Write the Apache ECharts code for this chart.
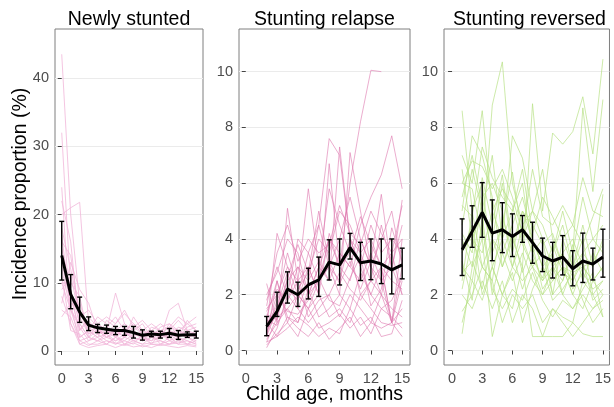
<!DOCTYPE html>
<html>
<head>
<meta charset="utf-8">
<script src="https://cdn.jsdelivr.net/npm/echarts@6/dist/echarts.min.js"></script>
<style>html,body{margin:0;padding:0;background:#fff}#c{width:614px;height:407px}</style>
</head>
<body>
<div id="c"></div>
<script>
// ---------- DATA ----------
const ages = [0,1,2,3,4,5,6,7,8,9,10,11,12,13,14,15];
const panelTitles = ['Newly stunted', 'Stunting relapse', 'Stunting reversed'];
const xTicks = [0,3,6,9,12,15];
const yTicksNewly = [0,10,20,30,40];
const yTicksOther = [0,2,4,6,8,10];

// mean and 95% CI per panel
const newlyMean = [14.0,8.3,5.7,3.8,3.4,3.2,3.0,3.0,2.7,2.3,2.5,2.4,2.6,2.3,2.4,2.4];
const newlyLo   = [10.4,6.2,4.2,3.0,2.7,2.6,2.4,2.3,1.9,1.6,2.1,1.9,2.0,1.7,2.0,1.9];
const newlyHi   = [19.0,11.2,7.9,5.0,3.9,3.8,3.6,3.6,3.6,3.1,2.9,2.9,3.3,3.0,2.8,2.9];

const relapseMean = [null,null,0.86,1.40,2.2,2.0,2.35,2.53,3.17,3.07,3.69,3.15,3.21,3.1,2.89,3.07];
const relapseLo   = [null,null,0.53,1.22,1.7,1.58,1.85,1.94,2.53,2.35,3.28,2.51,2.54,2.4,2.03,2.57];
const relapseHi   = [null,null,1.22,2.09,2.82,2.45,2.95,3.35,3.97,4.0,4.2,3.88,4.0,4.0,4.0,3.67];

const reversedMean = [null,3.61,4.27,4.95,4.21,4.33,4.09,4.33,3.87,3.39,3.21,3.35,2.93,3.21,3.1,3.35];
const reversedLo   = [null,2.69,3.7,4.06,3.22,3.51,3.37,3.88,3.13,2.83,2.6,2.71,2.32,2.44,2.53,2.63];
const reversedHi   = [null,4.72,5.19,6.02,5.4,5.3,4.9,4.84,4.6,4.03,3.88,4.12,3.58,4.21,3.67,4.35];

// cohort-level curves
const newlyCohorts = [
  [43.5,20,7,3,2,2.5,1.5,2,1.5,1,1.2,1.5,1,1.2,1.5,1],
  [32,9,4,2,3,2,1.5,2.5,2,1.5,2,1.8,2.5,1.5,2,1.5],
  [20,21,21.8,4,3,2.5,3,2,3.5,2.5,2,3,2.5,2,3,2.5],
  [18,12,6,3.5,2.5,3,8.5,4,3,2,3,2.5,3.5,3,2,3],
  [16,14,5,2.5,4,3,2.5,3,2,3,2.5,2,3,2.5,2,2.5],
  [14,8,3,5,3.5,2,3,4,2.5,2,3.5,3,2,3.5,3,2],
  [12,6,2,3,2,4.5,3.5,2.5,3,4,2,3.5,4,2,3.5,4],
  [10,10,8,2,4,3,2,1.5,2.5,2,1.5,2,6,7,3,null],
  [8,4,1,1.5,2,1,2,3,1.5,1,2,1.5,1,2,1.5,1],
  [6,5,1.5,0.8,1.5,2.5,1,1.5,1,2.5,1,1,2,1,1,2],
  [22,16,3,4.5,2.5,3.5,5,3,4,2.5,3,4,3,4.5,3,3.5],
  [13,7,1,0.5,0.8,1,0.5,1,0.6,0.8,0.5,1,0.7,0.5,0.8,0.6],
  [9,11,5,6,4,5,4,5.5,4,3,4,3,3.5,5,4,5],
  [17,6,4,2,1.5,2,2.5,1,2,1.5,2.5,1,1.5,1,2,1.2],
  [11,3,2.5,1,1,1.5,1.2,0.8,1.2,0.6,1,0.8,1,1.5,1,0.8],
  [7,13,9,7,3,2,3,2,5,3,2,2.5,2,3,4,3],
  [15,9,2,3,5,4,2,3.5,2,1.5,3,2,4,3,2.5,2],
  [24,4,1.5,2,1.5,1,2,1,1.5,2,1,2.5,1.5,2,1,1.5],
  [5,7,6,2.5,3,2.5,4,6,3.5,4.5,3,2,3,2,4.5,3],
  [10,6,3.5,1.5,2.5,1.5,1,2,3,2,1.5,3,1.5,2.5,2,2.5]
];
const relapseCohorts = [
  [null,null,0.5,1.5,2.5,3,2,2.5,4,3,6,8.2,10.05,10.0,null,null],
  [null,null,1.5,2,3,2.5,5.8,3,4,3.5,3,4.5,5.5,6.3,7.7,5.8],
  [null,null,0.8,4.2,3,2,3.5,4.5,7.6,7.0,4,3.5,2.5,3,1,2.5],
  [null,null,2.4,1,5.1,2.5,3,2,6.7,3,2.5,4,3,2,3.5,2],
  [null,null,0.3,1.2,1.5,1,2,3,2.5,7.3,4,3,2,3,1,4],
  [null,null,1.2,2.5,1,2,1.5,2.5,3,2,7.1,5,3,4,5,3],
  [null,null,0.1,0.8,2,1.5,1,1.5,2,1.2,2,1.5,1,2,1,1.5],
  [null,null,1,0.5,1.2,0.8,0.5,1,0.4,0.8,1.2,0.5,1,0.8,1,0.5],
  [null,null,0.6,1.8,3.5,2.2,2.8,4,3.5,5,4.5,3.5,4,3,3.5,4],
  [null,null,1.8,3,2,4,3.5,2.5,3,4,5.5,4,3,2.5,3,2],
  [null,null,0.4,1,1.5,2,1.5,2,1.2,1.5,1,2,1.5,1,0.9,1],
  [null,null,0.9,1.6,2.8,1.5,2.5,3.2,2.5,3.5,3,2.5,3.5,2.5,1,3],
  [null,null,2,2.8,4,3.5,2,3,5.8,4.5,3.5,2,2.5,4.5,3,4.5],
  [null,null,0.2,0.6,1,0.5,1.5,0.8,1,1.3,0.8,1.2,0.6,1.5,1.2,0.8],
  [null,null,1.4,2.2,1.8,3,2.5,4.5,3,2.5,4,3,4.5,3.5,4,3.5],
  [null,null,0.7,1.3,2.2,1.8,3,2,4.2,3,3.5,4.8,3.8,3,2.5,2.2],
  [null,null,1.1,0.9,1.8,2.5,1.2,1.8,2,2.8,2.2,1.8,2.5,2,1.5,1.2],
  [null,null,0.5,2.5,1.2,1,2.2,1.2,1.5,2,1.5,2.8,2,1.5,1.8,2.6],
  [null,null,1.6,3.5,4.5,3.2,4,3.5,3.8,5.2,4.2,3.8,5,4.2,3.5,5.2],
  [null,null,0.3,0.5,0.8,1.2,0.9,0.5,0.8,0.6,1.5,0.9,1.2,0.5,0.6,1.8],
  [null,null,1.3,1.1,2.6,3.8,2.8,5,3.2,2.4,3.2,2.2,3.2,5.6,2.8,5.4],
  [null,null,0.8,2,1.4,1.3,1.8,2.6,1.8,1.6,2.6,3.4,1.6,2.2,4.4,3.2]
];
const reversedCohorts = [
  [null,8.6,5,3,4,6,3.5,5,4,3,2.5,3,2,3,2.5,2],
  [null,7,6,8.6,5,4,7.7,6.9,5,4,3,3.5,4,3,2.5,3],
  [null,6,5.8,4,8.8,10.35,6,4.5,5,6.5,4,3,2.5,3.5,3,4],
  [null,5,7.7,7,5.5,3,4,3,8.85,5,7.8,7.4,7.85,9.1,7.05,10.45],
  [null,4,3,5.5,6,5,3,4,3,2,3,2.5,3.5,8.7,5.7,9.0],
  [null,3.5,4.5,2,3,4,5,6,3.5,4,2,4,3,4.5,3,5.6],
  [null,2.5,5,6,3,2,3,2.5,3,2.5,3.5,2,1.5,2,1.5,2],
  [null,1.4,2,3,2.5,1,2,1.5,2,1,1.5,1.2,1,2.5,2,1.2],
  [null,0.6,3,4,0.5,2,1.5,3,0.5,0.5,0.5,0.5,1,0.6,0.5,0.5],
  [null,4.5,6.5,5,4,3.5,4.5,5.5,4,3,3.5,4.5,3,3.5,4,3.5],
  [null,3,2.5,4.5,2,3.5,2.5,3.5,2.5,2,2.5,3,2,1.5,2.5,3],
  [null,6.5,4,5,7,4,3,4.5,3.5,2.5,3,2,3,4,2,2.5],
  [null,2,1.5,2.5,1.5,2.5,1,2,1.5,0.5,1.5,1,0.5,1,1.5,1.8],
  [null,5.5,7,5.2,3.5,4.5,6.4,4,5,4.5,3.5,5,3.5,5.5,4,4.5],
  [null,3.8,4,3.5,5,5.8,5.2,3.8,3,3.5,2,2.5,3.8,2.5,3.5,2.8],
  [null,1,2.5,1.8,3,2,2.8,1,2.2,3,1.8,2.2,2.8,1.8,1,1.5],
  [null,4.2,3.5,6.2,4.5,6.3,3.8,5,4.5,3.8,4.2,3,2.8,3,3.2,3.8],
  [null,2.8,3.2,2.2,4,3,4.2,2.8,3.8,2.2,2.8,3.5,2.2,2.8,2.2,2.5],
  [null,5.2,4.8,7.3,6.2,5.5,5,6.5,4.2,5.5,4.8,4,4.5,3.8,4.8,5.8],
  [null,3.2,1.8,4.8,2.2,1.5,2.2,1.8,2.8,1.8,1.2,1.8,1.5,2.2,2.8,1.2],
  [null,6,6.8,6.6,5.8,6.5,5.5,4.2,6.5,4.8,4.5,5.2,4.5,6.2,5,4.8],
  [null,2.2,4,3,2.5,4.8,3.5,2.2,3.3,2.6,3.8,2.8,2.5,3.2,1.8,2.2]
];

// ---------- BUILD ----------
const FONT = '"Liberation Sans", Arial, Helvetica, sans-serif';
const panels = [
  {cohorts: newlyCohorts, mean: newlyMean, lo: newlyLo, hi: newlyHi, color: '#f1b6da', opacity: 0.8,
   grid: {left: 55, width: 148}, xr: [-0.75, 15.75], yr: [-2.05, 47.2], yTicks: yTicksNewly},
  {cohorts: relapseCohorts, mean: relapseMean, lo: relapseLo, hi: relapseHi, color: '#de77ae', opacity: 0.6,
   grid: {left: 239, width: 171}, xr: [-0.65, 15.75], yr: [-0.52, 11.53], yTicks: yTicksOther},
  {cohorts: reversedCohorts, mean: reversedMean, lo: reversedLo, hi: reversedHi, color: '#b8e186', opacity: 0.7,
   grid: {left: 444, width: 171}, xr: [-0.8, 15.65], yr: [-0.52, 11.53], yTicks: yTicksOther}
];

function pairs(vals) {
  const out = [];
  vals.forEach((v, i) => { if (v !== null) out.push([ages[i], v]); });
  return out;
}

const grids = [], xAxes = [], yAxes = [], series = [], graphics = [];
panels.forEach((p, i) => {
  grids.push({left: p.grid.left, width: p.grid.width, top: 29, height: 336,
    show: true, borderColor: '#7f7f7f', borderWidth: 1, backgroundColor: '#fff', containLabel: false});
  xAxes.push({gridIndex: i, type: 'value', min: p.xr[0], max: p.xr[1],
    axisLine: {show: false},
    axisTick: {show: true, length: 4, lineStyle: {color: '#444', width: 1}, customValues: xTicks},
    axisLabel: {customValues: xTicks, fontSize: 14.5, color: '#4d4d4d', margin: 6, fontFamily: FONT},
    splitLine: {show: false}});
  yAxes.push({gridIndex: i, type: 'value', min: p.yr[0], max: p.yr[1],
    axisLine: {show: false},
    axisTick: {show: true, length: 4, lineStyle: {color: '#444', width: 1}, customValues: p.yTicks},
    axisLabel: {customValues: p.yTicks, fontSize: 14.5, color: '#4d4d4d', margin: 6, fontFamily: FONT},
    splitLine: {show: true, lineStyle: {color: '#ebebeb', width: 1}}});
  p.cohorts.forEach(c => {
    series.push({type: 'line', xAxisIndex: i, yAxisIndex: i, data: pairs(c),
      showSymbol: false, symbol: 'none', silent: true, z: 2,
      lineStyle: {color: p.color, width: 1, opacity: p.opacity}});
  });
  series.push({type: 'line', xAxisIndex: i, yAxisIndex: i, data: pairs(p.mean),
    showSymbol: false, symbol: 'none', silent: true, z: 4,
    lineStyle: {color: '#000', width: 3}});
  const eb = [];
  ages.forEach((a, k) => { if (p.lo[k] !== null) eb.push([a, p.lo[k], p.hi[k]]); });
  series.push({type: 'custom', xAxisIndex: i, yAxisIndex: i, data: eb, silent: true, z: 5,
    encode: {x: 0, y: [1, 2]},
    renderItem: function (params, api) {
      const x = api.value(0);
      const a = api.coord([x, api.value(1)]);
      const b = api.coord([x, api.value(2)]);
      const w = 2.5;
      const st = {stroke: '#000', lineWidth: 1.4};
      return {type: 'group', children: [
        {type: 'line', shape: {x1: a[0], y1: a[1], x2: b[0], y2: b[1]}, style: st},
        {type: 'line', shape: {x1: a[0] - w, y1: a[1], x2: a[0] + w, y2: a[1]}, style: st},
        {type: 'line', shape: {x1: b[0] - w, y1: b[1], x2: b[0] + w, y2: b[1]}, style: st}
      ]};
    }});
  graphics.push({type: 'text', x: p.grid.left + p.grid.width / 2, y: 19.5,
    style: {text: panelTitles[i], font: '19.5px ' + FONT, fill: '#000', textAlign: 'center', textVerticalAlign: 'middle'}});
});
graphics.push({type: 'text', x: 324.5, y: 395,
  style: {text: 'Child age, months', font: '19.5px ' + FONT, fill: '#000', textAlign: 'center', textVerticalAlign: 'middle'}});
graphics.push({type: 'text', x: 21, y: 194, rotation: Math.PI / 2,
  style: {text: 'Incidence proportion (%)', font: '19.5px ' + FONT, fill: '#000', textAlign: 'center', textVerticalAlign: 'middle'}});

const chart = echarts.init(document.getElementById('c'), null, {renderer: 'canvas'});
chart.setOption({
  animation: false,
  backgroundColor: '#fff',
  grid: grids, xAxis: xAxes, yAxis: yAxes, series: series, graphic: graphics
});
</script>
</body>
</html>
